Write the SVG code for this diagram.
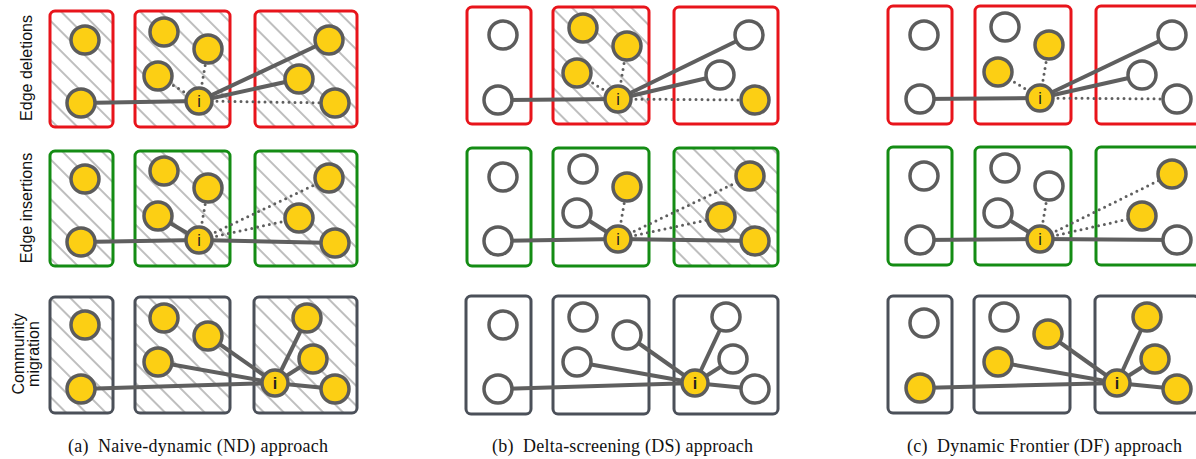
<svg xmlns="http://www.w3.org/2000/svg" width="1196" height="459" viewBox="0 0 1196 459">
<style>
.bx{stroke-width:3;fill:none}
.red{stroke:#e8141b}
.grn{stroke:#148c14}
.gry{stroke:#4b5059}
.h{fill:url(#hatch)}
.n circle{stroke:#5c5c5c;stroke-width:3.5}
.y{fill:#fccf14}
.w{fill:#ffffff}
.e{stroke:#5f5f5f;stroke-width:4;fill:none}
.d{stroke:#5f5f5f;stroke-width:3;stroke-dasharray:0 6;stroke-linecap:round;fill:none}
.il{font-family:"Liberation Sans",Arial,sans-serif;font-size:16px;fill:#222;text-anchor:middle}
.rl{font-family:"Liberation Sans",Arial,sans-serif;font-size:16px;fill:#111;text-anchor:middle}
.cap{font-family:"Liberation Serif","Times New Roman",serif;font-size:18px;fill:#111;text-anchor:middle}
</style>
<defs>
<pattern id="hatch" patternUnits="userSpaceOnUse" width="14" height="14" patternTransform="rotate(-45)">
<line x1="7" y1="-1" x2="7" y2="15" stroke="#6e6e6e" stroke-width="0.9"/>
</pattern>
</defs>
<rect width="1196" height="459" fill="#ffffff"/>

<!-- row labels -->
<g id="row-labels">
<text class="rl" transform="translate(31.5,68) rotate(-90)">Edge deletions</text>
<text class="rl" transform="translate(31.5,208) rotate(-90)">Edge insertions</text>
<text class="rl" transform="translate(23.5,354) rotate(-90)">Community</text>
<text class="rl" transform="translate(39,354) rotate(-90)">migration</text>
</g>

<!-- community boxes -->
<g id="boxes">
<!-- panel a -->
<rect class="h" x="50" y="11" width="63" height="116" rx="5"/><rect class="bx red" x="50" y="11" width="63" height="116" rx="5"/>
<rect class="h" x="135" y="11" width="95" height="116" rx="5"/><rect class="bx red" x="135" y="11" width="95" height="116" rx="5"/>
<rect class="h" x="255" y="11" width="102" height="116" rx="5"/><rect class="bx red" x="255" y="11" width="102" height="116" rx="5"/>
<rect class="h" x="50" y="151" width="63" height="115" rx="5"/><rect class="bx grn" x="50" y="151" width="63" height="115" rx="5"/>
<rect class="h" x="135" y="151" width="95" height="115" rx="5"/><rect class="bx grn" x="135" y="151" width="95" height="115" rx="5"/>
<rect class="h" x="255" y="151" width="102" height="115" rx="5"/><rect class="bx grn" x="255" y="151" width="102" height="115" rx="5"/>
<rect class="h" x="50" y="297" width="63" height="116" rx="5"/><rect class="bx gry" x="50" y="297" width="63" height="116" rx="5"/>
<rect class="h" x="135" y="297" width="95" height="116" rx="5"/><rect class="bx gry" x="135" y="297" width="95" height="116" rx="5"/>
<rect class="h" x="254" y="297" width="103" height="116" rx="5"/><rect class="bx gry" x="254" y="297" width="103" height="116" rx="5"/>
<!-- panel b -->
<rect class="bx red" x="467" y="7" width="64" height="117" rx="5"/>
<rect class="h" x="553" y="7" width="96" height="117" rx="5"/><rect class="bx red" x="553" y="7" width="96" height="117" rx="5"/>
<rect class="bx red" x="674" y="7" width="104" height="117" rx="5"/>
<rect class="bx grn" x="467" y="148" width="64" height="118" rx="5"/>
<rect class="bx grn" x="553" y="148" width="96" height="118" rx="5"/>
<rect class="h" x="674" y="148" width="104" height="118" rx="5"/><rect class="bx grn" x="674" y="148" width="104" height="118" rx="5"/>
<rect class="bx gry" x="466" y="296" width="65" height="118" rx="5"/>
<rect class="bx gry" x="553" y="296" width="96" height="118" rx="5"/>
<rect class="bx gry" x="674" y="296" width="104" height="118" rx="5"/>
<!-- panel c -->
<rect class="bx red" x="888" y="6" width="64" height="118" rx="5"/>
<rect class="bx red" x="975" y="6" width="96" height="118" rx="5"/>
<rect class="bx red" x="1096" y="6" width="104" height="118" rx="5"/>
<rect class="bx grn" x="888" y="147" width="64" height="118" rx="5"/>
<rect class="bx grn" x="975" y="147" width="96" height="118" rx="5"/>
<rect class="bx grn" x="1096" y="147" width="104" height="118" rx="5"/>
<rect class="bx gry" x="888" y="296" width="64" height="117" rx="5"/>
<rect class="bx gry" x="974" y="296" width="96" height="117" rx="5"/>
<rect class="bx gry" x="1095" y="296" width="104" height="117" rx="5"/>
</g>

<!-- connectors -->
<g id="connectors">
<!-- a row1 -->
<line class="e" x1="81" y1="103" x2="199" y2="101"/>
<line class="d" x1="199" y1="101" x2="158" y2="76"/>
<line class="d" x1="199" y1="101" x2="208" y2="49"/>
<line class="e" x1="199" y1="101" x2="329" y2="40"/>
<line class="e" x1="199" y1="101" x2="299" y2="79"/>
<line class="d" x1="199" y1="101" x2="335" y2="103"/>
<!-- a row2 -->
<line class="e" x1="81" y1="242" x2="199" y2="240"/>
<line class="e" x1="199" y1="240" x2="158" y2="216"/>
<line class="d" x1="199" y1="240" x2="208" y2="188"/>
<line class="d" x1="199" y1="240" x2="329" y2="178"/>
<line class="d" x1="199" y1="240" x2="299" y2="218"/>
<line class="e" x1="199" y1="240" x2="335" y2="243"/>
<!-- a row3 -->
<line class="e" x1="81" y1="389" x2="275" y2="383"/>
<line class="e" x1="208" y1="336" x2="275" y2="383"/>
<line class="e" x1="158" y1="362" x2="275" y2="383"/>
<line class="e" x1="275" y1="383" x2="307" y2="318"/>
<line class="e" x1="275" y1="383" x2="313" y2="359"/>
<line class="e" x1="275" y1="383" x2="335" y2="389"/>
<!-- b row1 -->
<line class="e" x1="498" y1="100" x2="618" y2="99"/>
<line class="d" x1="618" y1="99" x2="577" y2="73"/>
<line class="d" x1="618" y1="99" x2="627" y2="46"/>
<line class="e" x1="618" y1="99" x2="749" y2="35"/>
<line class="e" x1="618" y1="99" x2="720" y2="75"/>
<line class="d" x1="618" y1="99" x2="755" y2="100"/>
<!-- b row2 -->
<line class="e" x1="498" y1="241" x2="618" y2="239"/>
<line class="e" x1="618" y1="239" x2="577" y2="213"/>
<line class="d" x1="618" y1="239" x2="627" y2="187"/>
<line class="d" x1="618" y1="239" x2="750" y2="176"/>
<line class="d" x1="618" y1="239" x2="721" y2="217"/>
<line class="e" x1="618" y1="239" x2="755" y2="241"/>
<!-- b row3 -->
<line class="e" x1="498" y1="389" x2="695" y2="383"/>
<line class="e" x1="627" y1="335" x2="695" y2="383"/>
<line class="e" x1="577" y1="362" x2="695" y2="383"/>
<line class="e" x1="695" y1="383" x2="726" y2="317"/>
<line class="e" x1="695" y1="383" x2="733" y2="359"/>
<line class="e" x1="695" y1="383" x2="755" y2="389"/>
<!-- c row1 -->
<line class="e" x1="920" y1="99" x2="1040" y2="98"/>
<line class="d" x1="1040" y1="98" x2="998" y2="72"/>
<line class="d" x1="1040" y1="98" x2="1049" y2="45"/>
<line class="e" x1="1040" y1="98" x2="1172" y2="35"/>
<line class="e" x1="1040" y1="98" x2="1142" y2="75"/>
<line class="d" x1="1040" y1="98" x2="1177" y2="99"/>
<!-- c row2 -->
<line class="e" x1="920" y1="240" x2="1040" y2="239"/>
<line class="e" x1="1040" y1="239" x2="998" y2="213"/>
<line class="d" x1="1040" y1="239" x2="1049" y2="186"/>
<line class="d" x1="1040" y1="239" x2="1172" y2="174"/>
<line class="d" x1="1040" y1="239" x2="1142" y2="216"/>
<line class="e" x1="1040" y1="239" x2="1177" y2="240"/>
<!-- c row3 -->
<line class="e" x1="920" y1="388" x2="1117" y2="383"/>
<line class="e" x1="1048" y1="334" x2="1117" y2="383"/>
<line class="e" x1="998" y1="362" x2="1117" y2="383"/>
<line class="e" x1="1117" y1="383" x2="1147" y2="317"/>
<line class="e" x1="1117" y1="383" x2="1155" y2="359"/>
<line class="e" x1="1117" y1="383" x2="1177" y2="389"/>
</g>

<!-- panel a nodes -->
<g id="a1-n1" class="n"><circle class="y" cx="85" cy="40" r="14"/></g>
<g id="a1-n2" class="n"><circle class="y" cx="81" cy="103" r="14"/></g>
<g id="a1-n3" class="n"><circle class="y" cx="164" cy="32" r="14"/></g>
<g id="a1-n4" class="n"><circle class="y" cx="208" cy="49" r="14"/></g>
<g id="a1-n5" class="n"><circle class="y" cx="158" cy="76" r="14"/></g>
<g id="a1-n6" class="n"><circle class="y" cx="329" cy="40" r="14"/></g>
<g id="a1-n7" class="n"><circle class="y" cx="299" cy="79" r="14"/></g>
<g id="a1-n8" class="n"><circle class="y" cx="335" cy="103" r="14"/></g>
<g id="a1-i" class="n"><circle class="y" cx="199" cy="101" r="13"/><text class="il" x="199" y="107">i</text></g>

<g id="a2-n1" class="n"><circle class="y" cx="85" cy="179" r="14"/></g>
<g id="a2-n2" class="n"><circle class="y" cx="81" cy="242" r="14"/></g>
<g id="a2-n3" class="n"><circle class="y" cx="164" cy="171" r="14"/></g>
<g id="a2-n4" class="n"><circle class="y" cx="208" cy="188" r="14"/></g>
<g id="a2-n5" class="n"><circle class="y" cx="158" cy="216" r="14"/></g>
<g id="a2-n6" class="n"><circle class="y" cx="329" cy="178" r="14"/></g>
<g id="a2-n7" class="n"><circle class="y" cx="299" cy="218" r="14"/></g>
<g id="a2-n8" class="n"><circle class="y" cx="335" cy="243" r="14"/></g>
<g id="a2-i" class="n"><circle class="y" cx="199" cy="240" r="13"/><text class="il" x="199" y="246">i</text></g>

<g id="a3-n1" class="n"><circle class="y" cx="85" cy="325" r="14"/></g>
<g id="a3-n2" class="n"><circle class="y" cx="81" cy="389" r="14"/></g>
<g id="a3-n3" class="n"><circle class="y" cx="164" cy="318" r="14"/></g>
<g id="a3-n4" class="n"><circle class="y" cx="208" cy="336" r="14"/></g>
<g id="a3-n5" class="n"><circle class="y" cx="158" cy="362" r="14"/></g>
<g id="a3-n6" class="n"><circle class="y" cx="307" cy="318" r="14"/></g>
<g id="a3-n7" class="n"><circle class="y" cx="313" cy="359" r="14"/></g>
<g id="a3-n8" class="n"><circle class="y" cx="335" cy="389" r="14"/></g>
<g id="a3-i" class="n"><circle class="y" cx="275" cy="383" r="13"/><text class="il" x="275" y="389" font-weight="bold">i</text></g>

<!-- panel b nodes -->
<g id="b1-n1" class="n"><circle class="w" cx="503" cy="35" r="14"/></g>
<g id="b1-n2" class="n"><circle class="w" cx="498" cy="100" r="14"/></g>
<g id="b1-n3" class="n"><circle class="y" cx="583" cy="28" r="14"/></g>
<g id="b1-n4" class="n"><circle class="y" cx="627" cy="46" r="14"/></g>
<g id="b1-n5" class="n"><circle class="y" cx="577" cy="73" r="14"/></g>
<g id="b1-n6" class="n"><circle class="w" cx="749" cy="35" r="14"/></g>
<g id="b1-n7" class="n"><circle class="w" cx="720" cy="75" r="14"/></g>
<g id="b1-n8" class="n"><circle class="y" cx="755" cy="100" r="14"/></g>
<g id="b1-i" class="n"><circle class="y" cx="618" cy="99" r="13"/><text class="il" x="618" y="105">i</text></g>

<g id="b2-n1" class="n"><circle class="w" cx="503" cy="177" r="14"/></g>
<g id="b2-n2" class="n"><circle class="w" cx="498" cy="241" r="14"/></g>
<g id="b2-n3" class="n"><circle class="w" cx="583" cy="169" r="14"/></g>
<g id="b2-n4" class="n"><circle class="y" cx="627" cy="187" r="14"/></g>
<g id="b2-n5" class="n"><circle class="w" cx="577" cy="213" r="14"/></g>
<g id="b2-n6" class="n"><circle class="y" cx="750" cy="176" r="14"/></g>
<g id="b2-n7" class="n"><circle class="y" cx="721" cy="217" r="14"/></g>
<g id="b2-n8" class="n"><circle class="y" cx="755" cy="241" r="14"/></g>
<g id="b2-i" class="n"><circle class="y" cx="618" cy="239" r="13"/><text class="il" x="618" y="245">i</text></g>

<g id="b3-n1" class="n"><circle class="w" cx="503" cy="325" r="14"/></g>
<g id="b3-n2" class="n"><circle class="w" cx="498" cy="389" r="14"/></g>
<g id="b3-n3" class="n"><circle class="w" cx="583" cy="317" r="14"/></g>
<g id="b3-n4" class="n"><circle class="w" cx="627" cy="335" r="14"/></g>
<g id="b3-n5" class="n"><circle class="w" cx="577" cy="362" r="14"/></g>
<g id="b3-n6" class="n"><circle class="w" cx="726" cy="317" r="14"/></g>
<g id="b3-n7" class="n"><circle class="w" cx="733" cy="359" r="14"/></g>
<g id="b3-n8" class="n"><circle class="w" cx="755" cy="389" r="14"/></g>
<g id="b3-i" class="n"><circle class="y" cx="695" cy="383" r="13"/><text class="il" x="695" y="389" font-weight="bold">i</text></g>

<!-- panel c nodes -->
<g id="c1-n1" class="n"><circle class="w" cx="924" cy="35" r="14"/></g>
<g id="c1-n2" class="n"><circle class="w" cx="920" cy="99" r="14"/></g>
<g id="c1-n3" class="n"><circle class="w" cx="1005" cy="27" r="14"/></g>
<g id="c1-n4" class="n"><circle class="y" cx="1049" cy="45" r="14"/></g>
<g id="c1-n5" class="n"><circle class="y" cx="998" cy="72" r="14"/></g>
<g id="c1-n6" class="n"><circle class="w" cx="1172" cy="35" r="14"/></g>
<g id="c1-n7" class="n"><circle class="w" cx="1142" cy="75" r="14"/></g>
<g id="c1-n8" class="n"><circle class="w" cx="1177" cy="99" r="14"/></g>
<g id="c1-i" class="n"><circle class="y" cx="1040" cy="98" r="13"/><text class="il" x="1040" y="104">i</text></g>

<g id="c2-n1" class="n"><circle class="w" cx="924" cy="176" r="14"/></g>
<g id="c2-n2" class="n"><circle class="w" cx="920" cy="240" r="14"/></g>
<g id="c2-n3" class="n"><circle class="w" cx="1005" cy="168" r="14"/></g>
<g id="c2-n4" class="n"><circle class="w" cx="1049" cy="186" r="14"/></g>
<g id="c2-n5" class="n"><circle class="w" cx="998" cy="213" r="14"/></g>
<g id="c2-n6" class="n"><circle class="y" cx="1172" cy="174" r="14"/></g>
<g id="c2-n7" class="n"><circle class="y" cx="1142" cy="216" r="14"/></g>
<g id="c2-n8" class="n"><circle class="w" cx="1177" cy="240" r="14"/></g>
<g id="c2-i" class="n"><circle class="y" cx="1040" cy="239" r="13"/><text class="il" x="1040" y="245">i</text></g>

<g id="c3-n1" class="n"><circle class="w" cx="924" cy="323" r="14"/></g>
<g id="c3-n2" class="n"><circle class="y" cx="920" cy="388" r="14"/></g>
<g id="c3-n3" class="n"><circle class="w" cx="1004" cy="317" r="14"/></g>
<g id="c3-n4" class="n"><circle class="y" cx="1048" cy="334" r="14"/></g>
<g id="c3-n5" class="n"><circle class="y" cx="998" cy="362" r="14"/></g>
<g id="c3-n6" class="n"><circle class="y" cx="1147" cy="317" r="14"/></g>
<g id="c3-n7" class="n"><circle class="y" cx="1155" cy="359" r="14"/></g>
<g id="c3-n8" class="n"><circle class="y" cx="1177" cy="389" r="14"/></g>
<g id="c3-i" class="n"><circle class="y" cx="1117" cy="383" r="13"/><text class="il" x="1117" y="389" font-weight="bold">i</text></g>

<!-- captions -->
<g id="captions">
<text class="cap" x="198" y="452" textLength="260" lengthAdjust="spacing" xml:space="preserve">(a)  Naive-dynamic (ND) approach</text>
<text class="cap" x="622.5" y="452" textLength="261" lengthAdjust="spacing" xml:space="preserve">(b)  Delta-screening (DS) approach</text>
<text class="cap" x="1044.5" y="452" textLength="275" lengthAdjust="spacing" xml:space="preserve">(c)  Dynamic Frontier (DF) approach</text>
</g>
</svg>
